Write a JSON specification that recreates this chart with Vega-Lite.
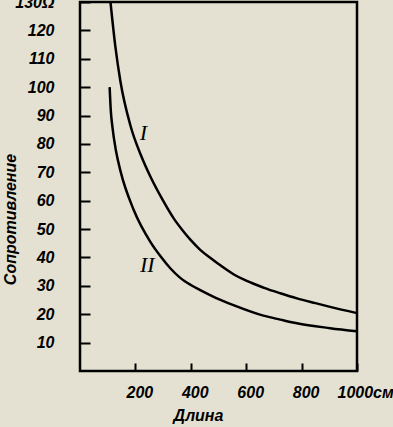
{
  "$schema": "https://vega.github.io/schema/vega-lite/v6.json",
  "width": 277,
  "height": 369,
  "autosize": {"type": "none"},
  "padding": {"left": 80, "top": 2, "right": 36, "bottom": 56},
  "background": "#e4e1d2",
  "config": {"view": {"stroke": "black", "strokeWidth": 2.5}, "font": "Liberation Sans"},
  "datasets": {
    "curves": [
      {"curve": "I", "length": 110, "resistance": 130},
      {"curve": "I", "length": 128, "resistance": 114},
      {"curve": "I", "length": 146, "resistance": 102},
      {"curve": "I", "length": 182, "resistance": 86.5},
      {"curve": "I", "length": 220, "resistance": 76},
      {"curve": "I", "length": 254, "resistance": 68.5},
      {"curve": "I", "length": 300, "resistance": 60},
      {"curve": "I", "length": 340, "resistance": 53.5},
      {"curve": "I", "length": 370, "resistance": 49.6},
      {"curve": "I", "length": 400, "resistance": 46.1},
      {"curve": "I", "length": 434, "resistance": 42.7},
      {"curve": "I", "length": 470, "resistance": 39.9},
      {"curve": "I", "length": 500, "resistance": 37.7},
      {"curve": "I", "length": 554, "resistance": 34.1},
      {"curve": "I", "length": 600, "resistance": 31.8},
      {"curve": "I", "length": 662, "resistance": 29.4},
      {"curve": "I", "length": 723, "resistance": 27.4},
      {"curve": "I", "length": 783, "resistance": 25.6},
      {"curve": "I", "length": 850, "resistance": 23.9},
      {"curve": "I", "length": 903, "resistance": 22.6},
      {"curve": "I", "length": 1000, "resistance": 20.4},
      {"curve": "II", "length": 107, "resistance": 100},
      {"curve": "II", "length": 111, "resistance": 92},
      {"curve": "II", "length": 117, "resistance": 86},
      {"curve": "II", "length": 130, "resistance": 77.5},
      {"curve": "II", "length": 146, "resistance": 70.5},
      {"curve": "II", "length": 194, "resistance": 56.7},
      {"curve": "II", "length": 254, "resistance": 45.5},
      {"curve": "II", "length": 290, "resistance": 40.5},
      {"curve": "II", "length": 326, "resistance": 36.2},
      {"curve": "II", "length": 362, "resistance": 32.8},
      {"curve": "II", "length": 400, "resistance": 30.3},
      {"curve": "II", "length": 434, "resistance": 28.5},
      {"curve": "II", "length": 490, "resistance": 25.8},
      {"curve": "II", "length": 554, "resistance": 23.2},
      {"curve": "II", "length": 662, "resistance": 19.5},
      {"curve": "II", "length": 723, "resistance": 18.1},
      {"curve": "II", "length": 783, "resistance": 16.8},
      {"curve": "II", "length": 903, "resistance": 15.1},
      {"curve": "II", "length": 1000, "resistance": 14}
    ],
    "labels": [
      {"label": "I", "length": 229, "resistance": 84},
      {"label": "II", "length": 243, "resistance": 37.5}
    ]
  },
  "layer": [
    {
      "data": {"name": "curves"},
      "mark": {"type": "line", "color": "black", "strokeWidth": 2.5, "interpolate": "monotone"},
      "encoding": {
        "x": {
          "field": "length", "type": "quantitative",
          "scale": {"domain": [0, 1000], "nice": false},
          "axis": {
            "values": [200, 400, 600, 800, 1000],
            "tickCount": 10,
            "title": "Длина",
            "domain": false, "grid": false,
            "tickSize": -8, "tickColor": "black", "tickWidth": 2,
            "labelFont": "Liberation Sans", "labelFontStyle": "italic", "labelFontWeight": "bold",
            "labelFontSize": 16, "labelColor": "black", "labelBaseline": "top", "labelPadding": 21,
            "labelFlush": false, "labelOverlap": false,
            "labelExpr": "datum.value == 1000 ? '1000см' : datum.label",
            "labelAlign": {"condition": {"test": "datum.value == 1000", "value": "left"}, "value": "center"},
            "labelOffset": {"condition": {"test": "datum.value == 1000", "value": -20}, "value": 4},
            "titleFont": "Liberation Sans", "titleFontStyle": "italic", "titleFontWeight": "bold",
            "titleFontSize": 16, "titleColor": "black",
            "titleX": 118, "titleY": 44, "titleAlign": "center", "titleBaseline": "middle"
          }
        },
        "y": {
          "field": "resistance", "type": "quantitative",
          "scale": {"domain": [0, 130], "nice": false},
          "axis": {
            "values": [10, 20, 30, 40, 50, 60, 70, 80, 90, 100, 110, 120, 130],
            "tickCount": 20,
            "title": "Сопротивление",
            "domain": false, "grid": false,
            "tickSize": -10, "tickColor": "black", "tickWidth": 2,
            "labelFont": "Liberation Sans", "labelFontStyle": "italic", "labelFontWeight": "bold",
            "labelFontSize": 16, "labelColor": "black", "labelPadding": 36,
            "labelOverlap": false, "labelFlush": false, "labelBound": false,
            "labelExpr": "datum.value == 130 ? '130Ω' : datum.label",
            "titleFont": "Liberation Sans", "titleFontStyle": "italic", "titleFontWeight": "bold",
            "titleFontSize": 16, "titleColor": "black", "titleAngle": 270,
            "titleX": -70, "titleY": 217, "titleAlign": "center", "titleBaseline": "middle"
          }
        },
        "detail": {"field": "curve"}
      }
    },
    {
      "data": {"name": "labels"},
      "mark": {"type": "text", "font": "Liberation Serif", "fontStyle": "italic", "fontSize": 22, "color": "black"},
      "encoding": {
        "x": {"field": "length", "type": "quantitative"},
        "y": {"field": "resistance", "type": "quantitative"},
        "text": {"field": "label"}
      }
    }
  ]
}
